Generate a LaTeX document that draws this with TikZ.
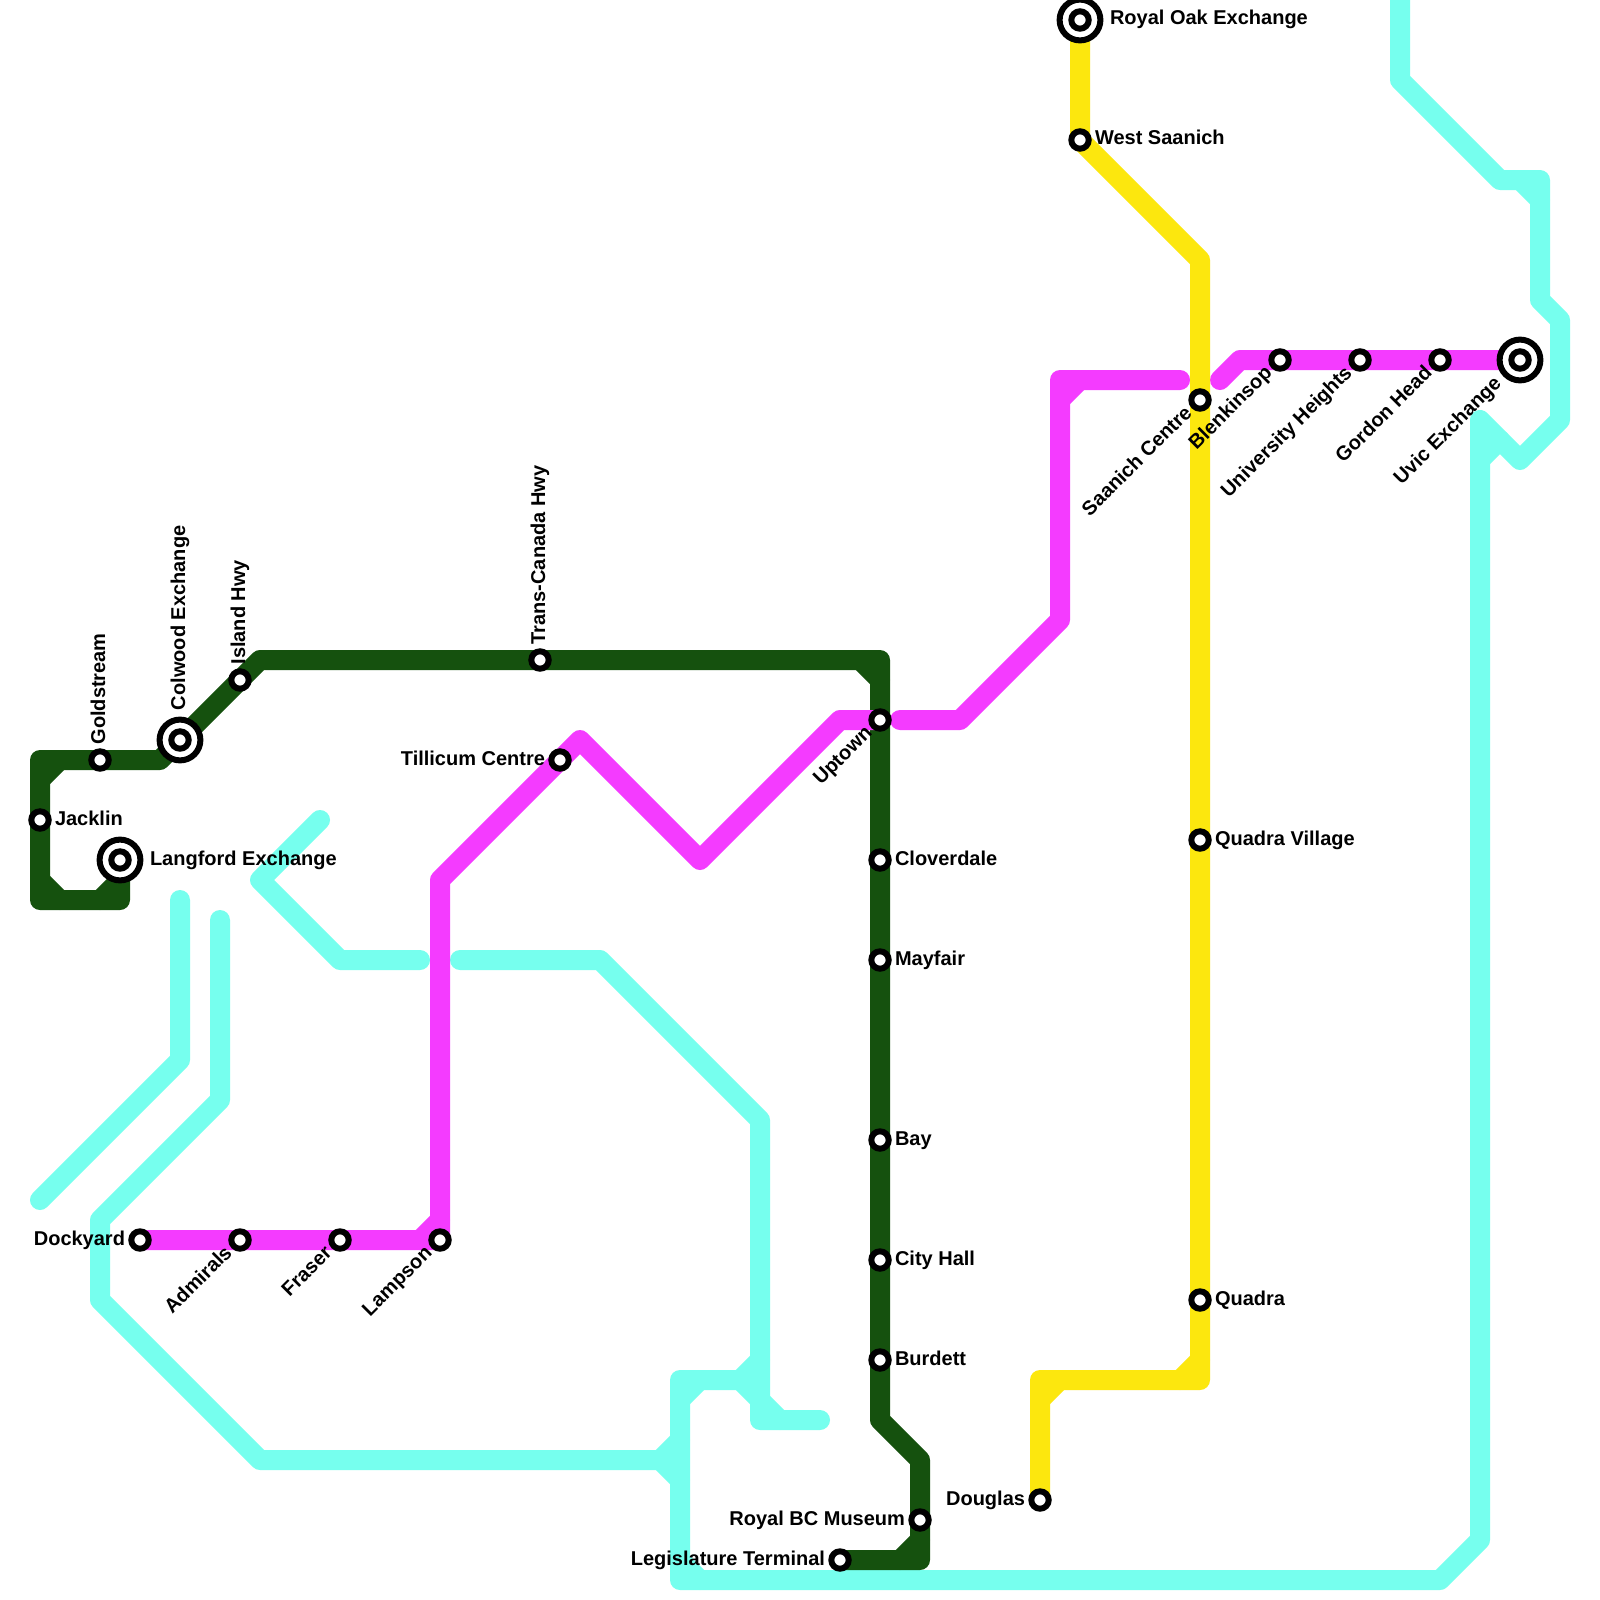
\documentclass[tikz,border=0pt]{standalone}
\usepackage{fontspec}
\setmainfont{Liberation Sans}
\usetikzlibrary{backgrounds}
\definecolor{lgreen}{RGB}{21,81,14}
\definecolor{lcyan}{RGB}{118,255,238}
\definecolor{lmag}{RGB}{244,59,255}
\definecolor{lyel}{RGB}{252,231,14}
\tikzset{
  x=1pt,y=-1pt,
  metro/.style={line width=20pt,line cap=round,line join=round},
  smallstn/.style={circle,draw=black,fill=white,line width=6pt,minimum size=17.4pt,inner sep=0pt,outer sep=0pt},
  bigstn/.style={circle,draw=black,fill=white,line width=6pt,minimum size=40.8pt,inner sep=0pt,outer sep=0pt},
  lbl/.style={inner sep=0pt,outer sep=0pt,font=\fontsize{20}{24}\selectfont\bfseries,text=black},
  lblR/.style={lbl,anchor=base west,xshift=15pt,yshift=-5pt},
  lblRT/.style={lbl,anchor=base west,xshift=30pt,yshift=-5pt},
  lblL/.style={lbl,anchor=base east,xshift=-15pt,yshift=-5pt},
  lblU/.style={lbl,anchor=base west,xshift=5pt,yshift=15.5pt,rotate=90},
  lblUT/.style={lbl,anchor=base west,xshift=5pt,yshift=30pt,rotate=90},
  lblD/.style={lbl,anchor=base east,xshift=-7.07pt,yshift=-14.14pt,rotate=45},
  lblDT/.style={lbl,anchor=base east,xshift=-17.7pt,yshift=-24.7pt,rotate=45},
}
\newcommand{\stnS}[3]{\node[smallstn] (#1) at (#2,#3) {};}
\newcommand{\stnB}[3]{\node[bigstn] (#1) at (#2,#3) {};\node[smallstn] (#1in) at (#1) {};}
\begin{document}
\begin{tikzpicture}
\useasboundingbox (0,0) rectangle (1600,1600);
% stations
\stnS{jacklin}{40}{820}
\stnS{goldstream}{100}{760}
\stnB{colwood}{180}{740}
\stnS{island}{240}{680}
\stnB{langford}{120}{860}
\stnS{transcanada}{540}{660}
\stnS{uptown}{880}{720}
\stnS{cloverdale}{880}{860}
\stnS{mayfair}{880}{960}
\stnS{bay}{880}{1140}
\stnS{cityhall}{880}{1260}
\stnS{burdett}{880}{1360}
\stnS{rbcm}{920}{1520}
\stnS{legislature}{840}{1560}
\stnS{dockyard}{140}{1240}
\stnS{admirals}{240}{1240}
\stnS{fraser}{340}{1240}
\stnS{lampson}{440}{1240}
\stnS{tillicum}{560}{760}
\stnB{royaloak}{1080}{20}
\stnS{westsaanich}{1080}{140}
\stnS{saanich}{1200}{400}
\stnS{quadravillage}{1200}{840}
\stnS{quadra}{1200}{1300}
\stnS{douglas}{1040}{1500}
\stnS{blenkinsop}{1280}{360}
\stnS{university}{1360}{360}
\stnS{gordon}{1440}{360}
\stnB{uvic}{1520}{360}
% labels
\node[lblR] (tjacklin) at (jacklin) {Jacklin};
\node[lblU] (tgoldstream) at (goldstream) {Goldstream};
\node[lblUT] (tcolwood) at (colwood) {Colwood Exchange};
\node[lblU] (tisland) at (island) {Island Hwy};
\node[lblRT] (tlangford) at (langford) {Langford Exchange};
\node[lblU] (ttrans) at (transcanada) {Trans-Canada Hwy};
\node[lblD] (tuptown) at (uptown) {Uptown};
\node[lblR] (tcloverdale) at (cloverdale) {Cloverdale};
\node[lblR] (tmayfair) at (mayfair) {Mayfair};
\node[lblR] (tbay) at (bay) {Bay};
\node[lblR] (tcityhall) at (cityhall) {City Hall};
\node[lblR] (tburdett) at (burdett) {Burdett};
\node[lblL] (trbcm) at (rbcm) {Royal BC Museum};
\node[lblL] (tlegislature) at (legislature) {Legislature Terminal};
\node[lblL] (tdockyard) at (dockyard) {Dockyard};
\node[lblD] (tadmirals) at (admirals) {Admirals};
\node[lblD] (tfraser) at (fraser) {Fraser};
\node[lblD] (tlampson) at (lampson) {Lampson};
\node[lblL] (ttillicum) at (tillicum) {Tillicum Centre};
\node[lblRT] (troyaloak) at (royaloak) {Royal Oak Exchange};
\node[lblR] (twestsaanich) at (westsaanich) {West Saanich};
\node[lblD] (tsaanich) at (saanich) {Saanich Centre};
\node[lblR] (tquadravillage) at (quadravillage) {Quadra Village};
\node[lblR] (tquadra) at (quadra) {Quadra};
\node[lblL] (tdouglas) at (douglas) {Douglas};
\node[lblD] (tblenkinsop) at (blenkinsop) {Blenkinsop};
\node[lblD] (tuniversity) at (university) {University Heights};
\node[lblD] (tgordon) at (gordon) {Gordon Head};
\node[lblDT] (tuvic) at (uvic) {Uvic Exchange};
% lines below the stations
\begin{scope}[on background layer]
\fill[white] (0,0) rectangle (1600,1600);
% cyan
\begin{scope}[metro,draw=lcyan]
\draw (1400,0) -- (1400,80) -- (1500,180) -- (1540,180) -- (1540,300) -- (1560,320) -- (1560,420) -- (1520,460) -- (1480,420) -- (1480,1540) -- (1440,1580) -- (680,1580) -- (680,1380) -- (740,1380);
\draw (1520,180) -- (1540,200);
\draw (1480,460) -- (1500,440);
\draw (680,1560) -- (700,1580);
\draw (680,1400) -- (700,1380);
\draw (740,1380) -- (760,1360);
\draw (740,1380) -- (760,1400);
\draw (460,960) -- (600,960) -- (760,1120) -- (760,1420) -- (820,1420);
\draw (760,1400) -- (780,1420);
\draw (320,820) -- (260,880) -- (340,960) -- (420,960);
\draw (180,900) -- (180,1060) -- (40,1200);
\draw (220,920) -- (220,1100) -- (100,1220) -- (100,1300) -- (260,1460) -- (660,1460);
\draw (660,1460) -- (680,1440);
\draw (660,1460) -- (680,1480);
\end{scope}
% green
\begin{scope}[metro,draw=lgreen]
\draw (langford.center) -- (120,900) -- (40,900) -- (jacklin.center) -- (40,760) -- (goldstream.center) -- (160,760) -- (colwood.center) -- (island.center) -- (260,660) -- (transcanada.center) -- (880,660) -- (uptown.center) -- (cloverdale.center) -- (mayfair.center) -- (bay.center) -- (cityhall.center) -- (burdett.center) -- (880,1420) -- (920,1460) -- (rbcm.center) -- (920,1560) -- (legislature.center);
\draw (100,900) -- (120,880);
\draw (40,880) -- (60,900);
\draw (40,780) -- (60,760);
\draw (860,660) -- (880,680);
\draw (920,1540) -- (900,1560);
\end{scope}
% magenta
\begin{scope}[metro,draw=lmag]
\draw (dockyard.center) -- (admirals.center) -- (fraser.center) -- (lampson.center) -- (440,880) -- (tillicum.center) -- (580,740) -- (700,860) -- (840,720) -- (uptown.center);
\draw (420,1240) -- (440,1220);
\draw (900,720) -- (960,720) -- (1060,620) -- (1060,380) -- (1180,380);
\draw (1060,400) -- (1080,380);
\draw (1220,380) -- (1240,360) -- (blenkinsop.center) -- (university.center) -- (gordon.center) -- (uvic.center);
\end{scope}
% yellow
\begin{scope}[metro,draw=lyel]
\draw (royaloak.center) -- (westsaanich.center) -- (1200,260) -- (saanich.center) -- (quadravillage.center) -- (quadra.center) -- (1200,1380) -- (1040,1380) -- (douglas.center);
\draw (1200,1360) -- (1180,1380);
\draw (1060,1380) -- (1040,1400);
\end{scope}
\end{scope}
\end{tikzpicture}
\end{document}
